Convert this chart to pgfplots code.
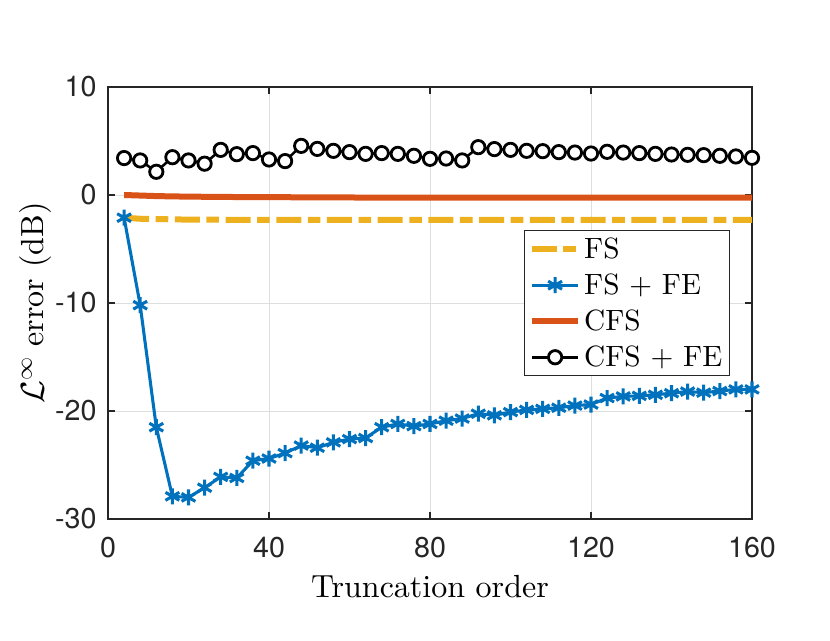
\documentclass[border=0pt]{standalone}
\usepackage{fontspec}
\setmainfont{lmroman10-regular}[Extension=.otf]
\usepackage{pgfplots}
\pgfplotsset{compat=1.18}
\newfontfamily\heros{TeX Gyre Heros}
\definecolor{mblue}{rgb}{0,0.447,0.741}
\definecolor{morange}{rgb}{0.851,0.325,0.098}
\definecolor{myellow}{rgb}{0.929,0.694,0.125}
\definecolor{axgray}{rgb}{0.15,0.15,0.15}
\begin{document}
\begin{tikzpicture}
\path[use as bounding box] (0,0) rectangle (622.5pt,480pt);
\begin{axis}[
 at={(81pt,90.75pt)}, anchor=south west, scale only axis, width=483pt, height=324pt,
 xmin=0,xmax=160,ymin=-30,ymax=10,
 xtick={0,40,...,160}, ytick={-30,-20,...,10},
 grid=major, major grid style={color=black!13, line width=0.6pt},
 axis line style={color=axgray, line width=0.8pt},
 tick style={color=axgray, line width=0.8pt}, major tick length=5pt,
 /pgf/number format/assume math mode=true,
 ticklabel style={font=\heros\fontsize{21.5}{25}\selectfont, text=axgray},
 xticklabel style={yshift=-10pt},
 yticklabel style={xshift=-5pt},
 xlabel={Truncation order},
 ylabel={$\mathcal{L}^{\infty}$ error (dB)},
 label style={font=\fontsize{24}{28}\selectfont},
 xlabel style={at={(axis description cs:0.5,0)}, anchor=base, yshift=-58.5pt},
 ylabel style={at={(axis description cs:-0.112,0.5)}, anchor=center},
 legend style={at={(rel axis cs:0.966,0.669)}, anchor=north east, font=\fontsize{22}{26}\selectfont, draw=axgray, line width=0.8pt, inner sep=3.5pt, row sep=6pt, legend cell align=left},
 legend image code/.code={\draw[mark repeat=2,mark phase=2] plot coordinates {(0pt,0pt)(17.5pt,0pt)(35pt,0pt)};},
]
\addplot[myellow, line width=4.5pt, dash pattern=on 18.75pt off 4.9pt on 9.5pt off 4.9pt] coordinates {
(4,-2.1)(8,-2.2)(20,-2.28)(40,-2.31)(80,-2.31)(120,-2.31)(160,-2.31)};
\addlegendentry{FS}
\addplot[mblue, line width=2.3pt, mark=asterisk, mark size=6pt, mark options={solid, line width=2.3pt}] coordinates {
(4,-2.1)(8,-10.2)(12,-21.5)(16,-27.9)(20,-28.0)(24,-27.1)(28,-26.1)(32,-26.2)(36,-24.6)(40,-24.4)
(44,-23.9)(48,-23.2)(52,-23.4)(56,-22.9)(60,-22.6)(64,-22.5)(68,-21.5)(72,-21.2)(76,-21.4)(80,-21.2)
(84,-20.9)(88,-20.7)(92,-20.25)(96,-20.4)(100,-20.1)(104,-19.9)(108,-19.8)(112,-19.7)(116,-19.5)(120,-19.4)
(124,-18.8)(128,-18.65)(132,-18.6)(136,-18.5)(140,-18.35)(144,-18.2)(148,-18.3)(152,-18.15)(156,-18.0)(160,-18.0)};
\addlegendentry{FS + FE}
\addplot[morange, line width=4.5pt] coordinates {
(4,0)(8,-0.05)(12,-0.1)(16,-0.13)(20,-0.15)(28,-0.18)(40,-0.2)(60,-0.23)(80,-0.25)(120,-0.25)(160,-0.25)};
\addlegendentry{CFS}
\addplot[black, line width=1.9pt, mark=*, mark size=5pt, mark options={solid, fill=white, draw=black, line width=2.1pt}] coordinates {
(4,3.42)(8,3.2)(12,2.15)(16,3.5)(20,3.2)(24,2.9)(28,4.18)(32,3.78)(36,3.88)(40,3.29)
(44,3.14)(48,4.55)(52,4.27)(56,4.09)(60,3.97)(64,3.81)(68,3.88)(72,3.81)(76,3.63)(80,3.35)
(84,3.38)(88,3.2)(92,4.43)(96,4.25)(100,4.18)(104,4.09)(108,4.06)(112,3.97)(116,3.93)(120,3.84)
(124,4.0)(128,3.93)(132,3.88)(136,3.81)(140,3.75)(144,3.72)(148,3.69)(152,3.63)(156,3.57)(160,3.44)};
\addlegendentry{CFS + FE}
\end{axis}
\end{tikzpicture}
\end{document}
